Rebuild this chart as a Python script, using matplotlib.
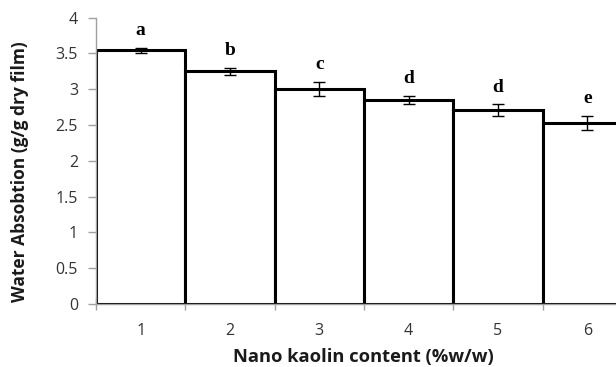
import numpy as np
import matplotlib
matplotlib.use("Agg")
from matplotlib import pyplot as plt

# data
content = [1, 2, 3, 4, 5, 6]
absorption = [3.54, 3.25, 3.00, 2.85, 2.71, 2.53]
errors = [0.035, 0.05, 0.10, 0.06, 0.08, 0.10]
letters = ["a", "b", "c", "d", "d", "e"]
yticks = [0, 0.5, 1, 1.5, 2, 2.5, 3, 3.5, 4]

fig = plt.figure(figsize=(6.16, 3.67), dpi=100)
# axes runs past the right edge like the cropped original
ax = fig.add_axes([96/616, 1-304/367, 536/616, (304-17.5)/367])

ax.bar(content, absorption, width=1.0, color="white", edgecolor="black", linewidth=2.2, zorder=2)
ax.errorbar(content, absorption, yerr=errors, fmt="none", ecolor="black", elinewidth=1.0,
            capsize=4, capthick=1.0, zorder=3)
for xi, yi, ei, lab in zip(content, absorption, errors, letters):
    ax.annotate(lab, (xi, yi+ei), xytext=(0, 9), textcoords="offset points", ha="center", va="baseline",
                fontsize=14, fontweight="bold", family="Liberation Serif", color="black")

ax.set_xlim(0.5, 6.5)
ax.set_ylim(0, 4)
ax.set_yticks(yticks)
ax.set_yticklabels([("%g" % v) for v in yticks])
ax.set_xticks(content)
ax.set_xticks(np.arange(0.5, 7, 1), minor=True)

for s in ["top", "right"]:
    ax.spines[s].set_visible(False)
for s in ["left", "bottom"]:
    ax.spines[s].set_color("#a0a0a0")
    ax.spines[s].set_linewidth(1.0)

ax.tick_params(axis="y", direction="out", length=6, width=1, color="#a0a0a0", pad=7,
               labelsize=11.5, labelcolor="#333333")
ax.tick_params(axis="x", which="major", length=0, pad=14, labelsize=11.5, labelcolor="#333333")
ax.tick_params(axis="x", which="minor", direction="inout", length=8, width=1, color="#a0a0a0")
for t in ax.get_xticklabels() + ax.get_yticklabels():
    t.set_family("Open Sans")

fig.text(363/616, 1-357/367, "Nano kaolin content (%w/w)", ha="center", va="center",
         fontsize=13.2, fontweight="bold", family="Open Sans", color="#1a1a1a")
fig.text(20/616, 1-172/367, "Water Absobtion (g/g dry film)", ha="center", va="center",
         rotation=90, fontsize=12.5, fontweight="bold", family="Open Sans", color="#1a1a1a")

fig.savefig("out.png", dpi=100)
